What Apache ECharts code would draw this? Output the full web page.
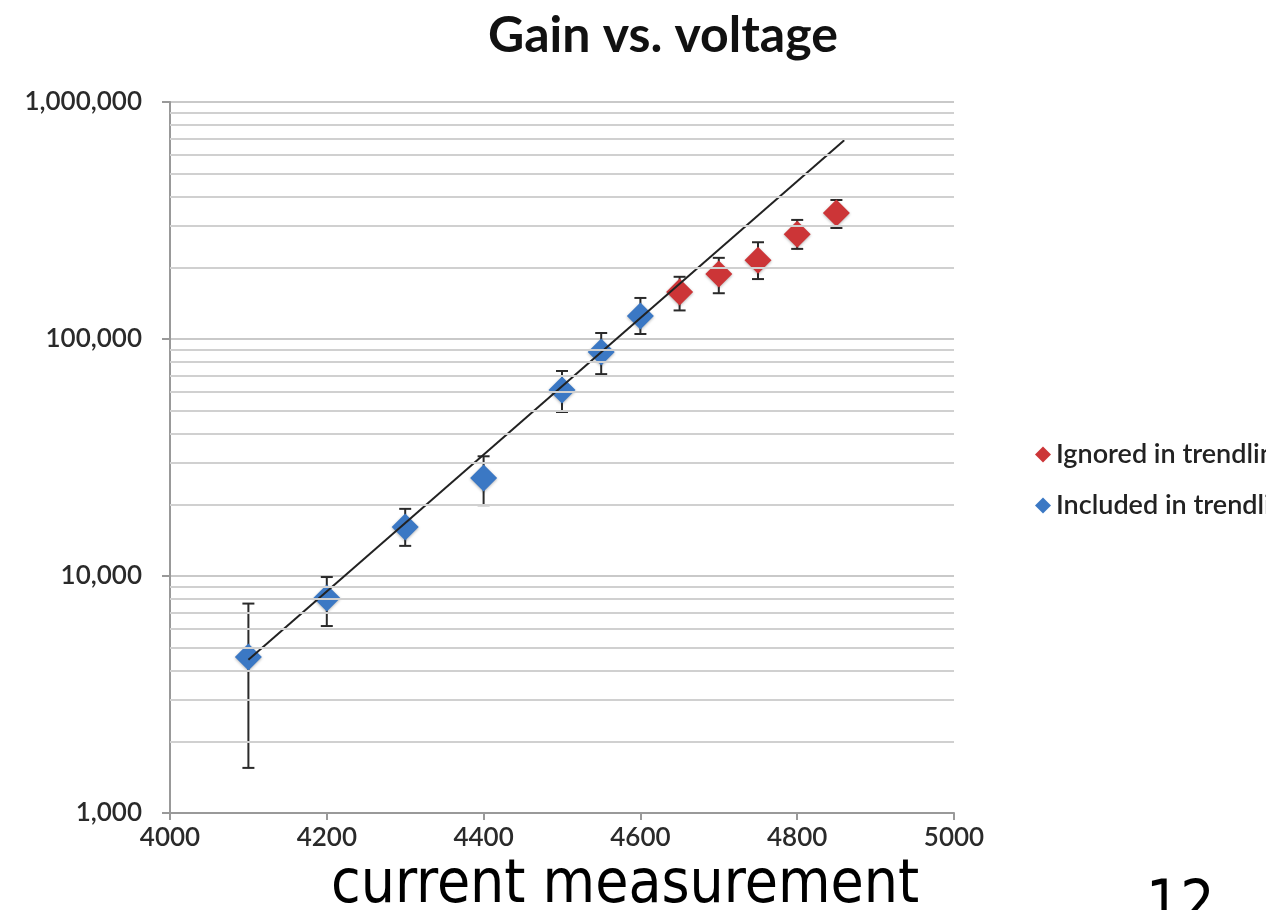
<!DOCTYPE html>
<html>
<head>
<meta charset="utf-8">
<script src="https://cdn.jsdelivr.net/npm/echarts@6/dist/echarts.min.js"></script>
<style>html,body{margin:0;padding:0;background:#fff;}#c{width:1266px;height:910px;}</style>
</head>
<body>
<div id="c"></div>
<script>
// Data
const includedX = [4100, 4200, 4300, 4400, 4500, 4550, 4600];
const includedY = [4550, 8080, 16100, 25900, 61000, 88100, 125000];
const includedLow = [1550, 6150, 13400, 19900, 49200, 71100, 105000];
const includedHigh = [7650, 9900, 19200, 32000, 73300, 106000, 149000];

const ignoredX = [4650, 4700, 4750, 4800, 4850];
const ignoredY = [158000, 188000, 215000, 277000, 340000];
const ignoredLow = [132000, 156000, 179000, 240000, 294000];
const ignoredHigh = [183000, 220000, 256000, 318000, 386000];

const trendX = [4100, 4860];
const trendY = [4430, 690000];

const minorGridValues = [2000,3000,4000,5000,6000,7000,8000,9000,
  20000,30000,40000,50000,60000,70000,80000,90000,
  200000,300000,400000,500000,600000,700000,800000,900000];

const seriesNames = ['Ignored in trendline', 'Included in trendline'];

const font = 'Lato, "Open Sans", sans-serif';
const blue = '#3b78c4';
const red = '#cc3537';

function pairs(xs, ys) { return xs.map((x, i) => [x, ys[i]]); }
function errData(xs, lo, hi) { return xs.map((x, i) => [x, lo[i], hi[i]]); }

function renderErr(params, api) {
  const x = api.value(0);
  const p1 = api.coord([x, api.value(1)]);
  const p2 = api.coord([x, api.value(2)]);
  const cap = 6;
  const style = { stroke: '#2a2a2a', lineWidth: 2 };
  return {
    type: 'group',
    children: [
      { type: 'line', shape: { x1: p1[0], y1: p1[1], x2: p2[0], y2: p2[1] }, style: style },
      { type: 'line', shape: { x1: p1[0]-cap, y1: p1[1], x2: p1[0]+cap, y2: p1[1] }, style: style },
      { type: 'line', shape: { x1: p2[0]-cap, y1: p2[1], x2: p2[0]+cap, y2: p2[1] }, style: style }
    ]
  };
}

const chart = echarts.init(document.getElementById('c'), null, { renderer: 'canvas' });
chart.setOption({
  animation: false,
  backgroundColor: '#fff',
  title: {
    text: 'Gain vs. voltage',
    left: 483, top: 6,
    textStyle: { fontFamily: font, fontSize: 50, fontWeight: 'bold', color: '#111' }
  },
  legend: {
    data: seriesNames,
    orient: 'vertical',
    left: 1030, top: 436,
    itemGap: 24,
    icon: 'diamond',
    itemWidth: 16, itemHeight: 16,
    textStyle: { fontFamily: font, fontSize: 27, fontWeight: 600, color: '#222', padding: [0,0,0,0] }
  },
  grid: { left: 170, right: 312, top: 102, bottom: 97, containLabel: false },
  xAxis: {
    type: 'value', min: 4000, max: 5000, interval: 200,
    axisLine: { show: true, lineStyle: { color: '#999', width: 2 } },
    axisTick: { show: true, length: 7, lineStyle: { color: '#999', width: 2 } },
    splitLine: { show: false },
    axisLabel: { fontFamily: font, fontSize: 26, fontWeight: 600, color: '#2a2a2a', margin: 12,
      formatter: v => String(v) }
  },
  yAxis: {
    type: 'log', logBase: 10, min: 1000, max: 1000000,
    axisLine: { show: true, lineStyle: { color: '#999', width: 2 } },
    axisTick: { show: true, length: 8, lineStyle: { color: '#999', width: 2 } },
    splitLine: { show: true, lineStyle: { color: '#c9c9c9', width: 2 } },
    axisLabel: {
      fontFamily: font, fontSize: 26, fontWeight: 600, color: '#2a2a2a', margin: 28,
      formatter: v => Math.round(v).toLocaleString('en-US')
    }
  },
  graphic: [
    { type: 'text', left: 331, top: 856,
      style: { text: 'current measurement', font: '60px "DejaVu Sans Condensed", "Liberation Sans Narrow", sans-serif', fill: '#000' } },
    { type: 'text', left: 1146, top: 877,
      style: { text: '12', font: '60px "DejaVu Sans Condensed", sans-serif', fill: '#000' } }
  ],
  series: [
    {
      name: 'minorGrid', type: 'line', data: [], silent: true,
      markLine: {
        silent: true, symbol: 'none', label: { show: false },
        lineStyle: { color: '#d0d0d0', width: 2, type: 'solid' },
        data: minorGridValues.map(v => ({ yAxis: v }))
      },
      z: 0
    },
    { name: 'errIncluded', type: 'custom', renderItem: renderErr, data: errData(includedX, includedLow, includedHigh), z: 2, silent: true },
    { name: 'errIgnored', type: 'custom', renderItem: renderErr, data: errData(ignoredX, ignoredLow, ignoredHigh), z: 2, silent: true },
    {
      name: seriesNames[0], type: 'scatter', symbol: 'diamond', symbolSize: 27,
      itemStyle: { color: red, opacity: 1, shadowColor: 'rgba(0,0,0,0.3)', shadowBlur: 3, shadowOffsetY: 1 },
      data: pairs(ignoredX, ignoredY), z: 3
    },
    {
      name: seriesNames[1], type: 'scatter', symbol: 'diamond', symbolSize: 27,
      itemStyle: { color: blue, opacity: 1, shadowColor: 'rgba(0,0,0,0.3)', shadowBlur: 3, shadowOffsetY: 1 },
      data: pairs(includedX, includedY), z: 3
    },
    {
      name: 'trend', type: 'line', data: pairs(trendX, trendY), showSymbol: false, symbol: 'none',
      lineStyle: { color: '#222', width: 2 }, z: 4, silent: true
    }
  ]
});
</script>
</body>
</html>
